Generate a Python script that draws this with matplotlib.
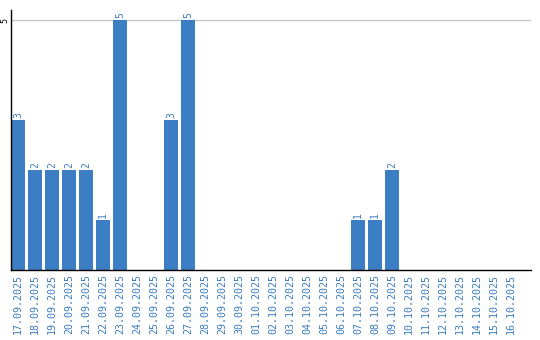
import matplotlib.pyplot as plt

dates = ["17.09.2025", "18.09.2025", "19.09.2025", "20.09.2025", "21.09.2025",
         "22.09.2025", "23.09.2025", "24.09.2025", "25.09.2025", "26.09.2025",
         "27.09.2025", "28.09.2025", "29.09.2025", "30.09.2025", "01.10.2025",
         "02.10.2025", "03.10.2025", "04.10.2025", "05.10.2025", "06.10.2025",
         "07.10.2025", "08.10.2025", "09.10.2025", "10.10.2025", "11.10.2025",
         "12.10.2025", "13.10.2025", "14.10.2025", "15.10.2025", "16.10.2025"]
counts = [3, 2, 2, 2, 2, 1, 5, 0, 0, 3,
          5, 0, 0, 0, 0, 0, 0, 0, 0, 0,
          1, 1, 2, 0, 0, 0, 0, 0, 0, 0]

blue = "#3b7ec3"
text_blue = "#3a7cc0"

fig = plt.figure(figsize=(5.4, 3.4), dpi=100)
ax = fig.add_axes([11 / 540, 70 / 340, 520 / 540, 260 / 340])

x = list(range(len(dates)))
ax.bar(x, counts, width=14 / 17, color=blue, zorder=2)

# value labels on top of bars
for i, v in zip(x, counts):
    if v > 0:
        ax.text(i, v + 0.05, str(v), rotation=90, ha="center", va="bottom",
                color=text_blue, fontsize=7, family="DejaVu Sans Mono")

ax.set_xlim(-7 / 17, (520 - 7) / 17)
ax.set_ylim(0, 5.2)

ax.set_xticks(x)
ax.set_xticklabels(dates, rotation=90, color=text_blue, fontsize=7.2,
                   family="DejaVu Sans Mono")
ax.set_yticks([5])
ax.set_yticklabels(["5"], rotation=90, fontsize=6, va="center",
                   family="DejaVu Sans Mono")
ax.tick_params(axis="x", length=0, pad=3)
ax.tick_params(axis="y", length=0, pad=1)
ax.yaxis.grid(True, color="#c8c8c8", linewidth=1, zorder=0)

for s in ["top", "right"]:
    ax.spines[s].set_visible(False)
for s in ["left", "bottom"]:
    ax.spines[s].set_linewidth(1.0)
    ax.spines[s].set_color("black")

fig.savefig("out.png", dpi=100)
